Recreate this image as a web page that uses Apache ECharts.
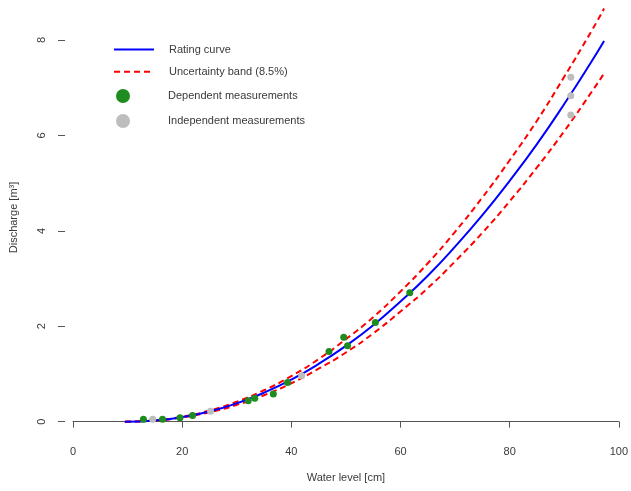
<!DOCTYPE html>
<html>
<head>
<meta charset="utf-8">
<script src="https://cdn.jsdelivr.net/npm/echarts@6/dist/echarts.min.js"></script>
<style>
html,body{margin:0;padding:0;background:#fff;}
#chart{width:631px;height:491px;}
</style>
</head>
<body>
<div id="chart"></div>
<script>
// Water level (cm) sample positions for the rating curve
const curveLevel = [9.5, 15, 20, 25, 30, 35, 40, 45, 50, 55, 60, 65, 70, 75, 80, 85, 90, 95, 97.3];
// Rating curve discharge (m3)
const curveQ = [0.00, 0.025, 0.095, 0.214, 0.384, 0.606, 0.88, 1.21, 1.59, 2.02, 2.52, 3.06, 3.67, 4.33, 5.05, 5.82, 6.66, 7.55, 7.98];
// Upper / lower uncertainty band (8.5%)
const upperQ = [0.00, 0.027, 0.103, 0.232, 0.417, 0.658, 0.955, 1.31, 1.73, 2.19, 2.73, 3.32, 3.98, 4.70, 5.48, 6.31, 7.23, 8.19, 8.66];
const lowerQ = [0.00, 0.023, 0.087, 0.196, 0.351, 0.554, 0.805, 1.11, 1.45, 1.85, 2.31, 2.80, 3.36, 3.96, 4.62, 5.33, 6.09, 6.91, 7.30];
// Dependent measurements
const depLevel = [12.9, 16.4, 19.6, 21.9, 32.1, 33.3, 36.7, 39.3, 46.9, 49.6, 50.3, 55.4, 61.7];
const depQ = [0.05, 0.05, 0.08, 0.13, 0.44, 0.49, 0.58, 0.82, 1.47, 1.77, 1.59, 2.08, 2.70];
// Independent measurements
const indLevel = [14.6, 25.2, 41.9, 91.2, 91.2, 91.2];
const indQ = [0.05, 0.22, 0.96, 7.22, 6.83, 6.43];
// Tick labels
const xTicks = [0, 20, 40, 60, 80, 100];
const yTicks = [0, 2, 4, 6, 8];

const pair = (xs, ys) => xs.map((x, i) => [x, ys[i]]);
const FONT = 'Liberation Sans, Arial, sans-serif';
const TXT = '#3a3a3a';
const Y_MIN = -0.28, Y_MAX = 8.84;

const chart = echarts.init(document.getElementById('chart'), null, {renderer: 'canvas'});
chart.setOption({
  animation: false,
  backgroundColor: '#ffffff',
  textStyle: {fontFamily: FONT},
  grid: [
    {left: 73, right: 12, top: 0, bottom: 56, containLabel: false},
    {left: 63, right: 12, top: 0, bottom: 56, containLabel: false}
  ],
  xAxis: [
    {
      type: 'value', gridIndex: 0, min: 0, max: 100, interval: 20,
      name: 'Water level [cm]', nameLocation: 'middle', nameGap: 37,
      nameTextStyle: {fontSize: 11, color: TXT, fontFamily: FONT},
      axisLine: {show: true, lineStyle: {color: '#555', width: 1}},
      axisTick: {show: true, length: 6, lineStyle: {color: '#555'}},
      axisLabel: {fontSize: 11, color: TXT, margin: 11, fontFamily: FONT},
      splitLine: {show: false}
    },
    {
      type: 'value', gridIndex: 1, min: 0, max: 100, show: false
    }
  ],
  yAxis: [
    {
      type: 'value', gridIndex: 0, min: Y_MIN, max: Y_MAX, show: false, splitLine: {show: false}
    },
    {
      type: 'value', gridIndex: 1, min: Y_MIN, max: Y_MAX,
      name: 'Discharge [m³]', nameLocation: 'middle', nameGap: 46,
      nameTextStyle: {fontSize: 11, color: TXT, fontFamily: FONT},
      axisLine: {show: false},
      axisTick: {show: true, length: 7, lineStyle: {color: '#555'}, customValues: yTicks},
      axisLabel: {fontSize: 11, color: TXT, rotate: 90, margin: 18, fontFamily: FONT, customValues: yTicks},
      splitLine: {show: false}
    }
  ],
  legend: [
    {
      data: ['Rating curve', 'Uncertainty band (8.5%)'],
      orient: 'vertical', left: 113, top: 44, padding: 0,
      itemWidth: 40, itemHeight: 14, itemGap: 11,
      itemStyle: {opacity: 0},
      textStyle: {fontSize: 11, color: TXT, fontFamily: FONT, padding: [0, 0, 3, 10]},
      selectedMode: false
    },
    {
      data: [{name: 'Dependent measurements', icon: 'circle'}, {name: 'Independent measurements', icon: 'circle'}],
      orient: 'vertical', left: 116, top: 89, padding: 0,
      itemWidth: 14, itemHeight: 14, itemGap: 11,
      textStyle: {fontSize: 11, color: TXT, fontFamily: FONT, padding: [0, 0, 4, 33]},
      selectedMode: false
    }
  ],
  series: [
    {
      name: 'Uncertainty band (8.5%)', type: 'line', data: pair(curveLevel, upperQ),
      xAxisIndex: 0, yAxisIndex: 0,
      smooth: true, showSymbol: false, symbol: 'none',
      lineStyle: {color: '#ff0000', width: 2, type: [6, 4]}, itemStyle: {color: '#ff0000'}, z: 2
    },
    {
      name: 'Uncertainty band (8.5%)', type: 'line', data: pair(curveLevel, lowerQ),
      xAxisIndex: 0, yAxisIndex: 0,
      smooth: true, showSymbol: false, symbol: 'none',
      lineStyle: {color: '#ff0000', width: 2, type: [6, 4]}, itemStyle: {color: '#ff0000'}, z: 2
    },
    {
      name: 'Rating curve', type: 'line', data: pair(curveLevel, curveQ),
      xAxisIndex: 0, yAxisIndex: 0,
      smooth: true, showSymbol: false, symbol: 'none',
      lineStyle: {color: '#0000ff', width: 2}, itemStyle: {color: '#0000ff'}, z: 3
    },
    {
      name: 'Dependent measurements', type: 'scatter', data: pair(depLevel, depQ),
      xAxisIndex: 0, yAxisIndex: 0,
      symbol: 'circle', symbolSize: 7, itemStyle: {color: '#1e8c1e', opacity: 1}, z: 5
    },
    {
      name: 'Independent measurements', type: 'scatter', data: pair(indLevel, indQ),
      xAxisIndex: 0, yAxisIndex: 0,
      symbol: 'circle', symbolSize: 7, itemStyle: {color: '#bdbdbd', opacity: 1}, z: 5
    }
  ]
});
</script>
</body>
</html>
